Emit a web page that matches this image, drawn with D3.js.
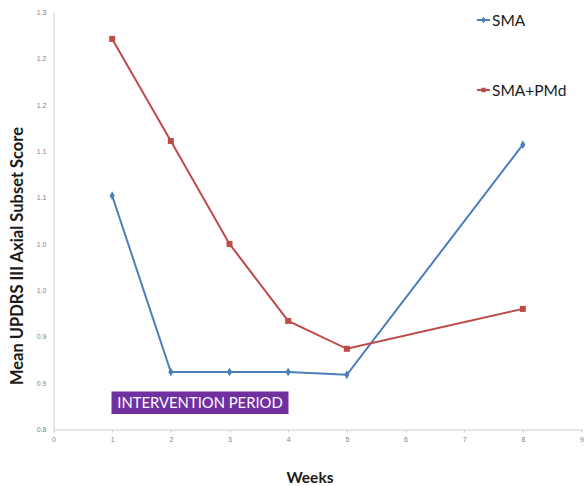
<!DOCTYPE html>
<html>
<head>
<meta charset="utf-8">
<script src="https://cdn.jsdelivr.net/npm/d3@7"></script>
<style>
  html, body { margin: 0; padding: 0; background: #fff; }
  svg { display: block; font-family: Lato, "Open Sans", sans-serif; }
</style>
</head>
<body>
<svg id="chart" width="585" height="486"></svg>
<script>
// Weeks at which the axial subset score was measured
const weeks = [1, 2, 3, 4, 5, 8];
// Mean UPDRS III axial subset scores per group
const smaValues = [1.052, 0.862, 0.862, 0.862, 0.859, 1.107];
const smaPmdValues = [1.221, 1.111, 1.000, 0.917, 0.887, 0.930];
// Axis ticks and their printed labels (one-decimal formatting)
const xTicks = [0, 1, 2, 3, 4, 5, 6, 7, 8, 9];
const yTicks = [0.80, 0.85, 0.90, 0.95, 1.00, 1.05, 1.10, 1.15, 1.20, 1.25];
const yTickLabels = ["0.8", "0.9", "0.9", "1.0", "1.0", "1.1", "1.1", "1.2", "1.2", "1.3"];
const seriesNames = ["SMA", "SMA+PMd"];

const svg = d3.select("#chart");
const plot = { left: 53.5, right: 581.5, top: 12, bottom: 429.5 };

const x = d3.scaleLinear().domain([0, 9]).range([plot.left, plot.right]);
const y = d3.scaleLinear().domain([0.8, 1.25]).range([plot.bottom, plot.top]);

const axisColor = "#d0d0d0";
const tickTextColor = "#7f7f7f";

// X axis
const xAxis = svg.append("g")
  .attr("transform", `translate(0,${plot.bottom})`)
  .call(d3.axisBottom(x).tickValues(xTicks).tickSize(3).tickFormat(d3.format("d")));
xAxis.select(".domain").attr("stroke", axisColor);
xAxis.selectAll(".tick line").attr("stroke", axisColor);
xAxis.selectAll(".tick text").attr("fill", tickTextColor).attr("font-size", 7).attr("dy", "0.9em");

// Y axis
const yAxis = svg.append("g")
  .attr("transform", `translate(${plot.left},0)`)
  .call(d3.axisLeft(y).tickValues(yTicks).tickSize(0)
    .tickFormat((d, i) => yTickLabels[i]));
yAxis.select(".domain").attr("stroke", axisColor);
yAxis.selectAll(".tick text").attr("fill", tickTextColor).attr("font-size", 7).attr("x", -7);

// Axis titles
svg.append("text")
  .attr("transform", `translate(22.5,256) rotate(-90)`)
  .attr("text-anchor", "middle")
  .attr("font-weight", "bold")
  .attr("font-size", 16.5)
  .attr("fill", "#1a1a1a")
  .text("Mean UPDRS III Axial Subset Score");

svg.append("text")
  .attr("x", 310).attr("y", 483)
  .attr("text-anchor", "middle")
  .attr("font-weight", "bold")
  .attr("font-size", 15.5)
  .attr("fill", "#1a1a1a")
  .text("Weeks");

// Intervention period label box
const boxG = svg.append("g");
boxG.append("rect")
  .attr("x", 111.5).attr("y", 391.5)
  .attr("width", 177).attr("height", 22.5)
  .attr("fill", "#7030a0");
boxG.append("text")
  .attr("x", 200).attr("y", 408)
  .attr("text-anchor", "middle")
  .attr("font-size", 14.8)
  .attr("fill", "#ffffff")
  .text("INTERVENTION PERIOD");

const line = d3.line().x(d => x(d[0])).y(d => y(d[1]));

const series = [
  { name: seriesNames[0], values: smaValues, color: "#4a7ebb", marker: "diamond" },
  { name: seriesNames[1], values: smaPmdValues, color: "#be4b48", marker: "square" }
];

series.forEach(s => {
  const pts = weeks.map((w, i) => [w, s.values[i]]);
  svg.append("path")
    .datum(pts)
    .attr("fill", "none")
    .attr("stroke", s.color)
    .attr("stroke-width", 2)
    .attr("d", line);
  const sym = s.marker === "diamond"
    ? d3.symbol().type(d3.symbolDiamond).size(22)
    : d3.symbol().type(d3.symbolSquare).size(36);
  svg.selectAll(null)
    .data(pts)
    .join("path")
    .attr("transform", d => `translate(${x(d[0])},${y(d[1])})`)
    .attr("d", sym)
    .attr("fill", s.color);
});

// Legend
const legendPos = [{ x: 477, y: 20 }, { x: 477, y: 90 }];
series.forEach((s, i) => {
  const g = svg.append("g").attr("transform", `translate(${legendPos[i].x},${legendPos[i].y})`);
  g.append("line").attr("x1", 0).attr("x2", 13).attr("y1", 0).attr("y2", 0)
    .attr("stroke", s.color).attr("stroke-width", 2);
  const sym = s.marker === "diamond"
    ? d3.symbol().type(d3.symbolDiamond).size(14)
    : d3.symbol().type(d3.symbolSquare).size(20);
  g.append("path").attr("transform", "translate(6.5,0)").attr("d", sym).attr("fill", s.color);
  g.append("text").attr("x", 15).attr("y", 5.5)
    .attr("font-size", 15.5).attr("fill", "#1a1a1a")
    .text(s.name);
});
</script>
</body>
</html>
